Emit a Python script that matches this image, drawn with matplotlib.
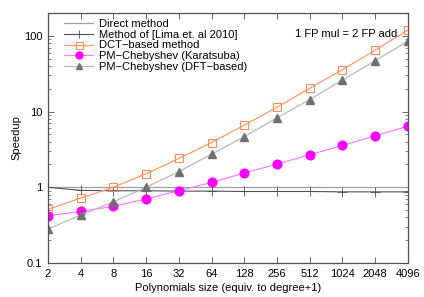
import matplotlib.pyplot as plt
import matplotlib.ticker as ticker

plt.rcParams['font.family'] = ['Liberation Sans', 'DejaVu Sans']
plt.rcParams['font.size'] = 8

sizes = [2, 4, 8, 16, 32, 64, 128, 256, 512, 1024, 2048, 4096]
direct = [1, 1, 1, 1, 1, 1, 1, 1, 1, 1, 1, 1]
lima = [1.0, 0.91, 0.9, 0.9, 0.89, 0.89, 0.88, 0.88, 0.88, 0.87, 0.87, 0.87]
dct = [0.51, 0.72, 1.0, 1.51, 2.4, 3.9, 6.6, 11.4, 20.3, 35.7, 64.8, 119]
karatsuba = [0.42, 0.48, 0.56, 0.70, 0.90, 1.16, 1.54, 2.03, 2.69, 3.57, 4.79, 6.41]
dft = [0.28, 0.43, 0.64, 1.0, 1.61, 2.74, 4.65, 8.3, 14.4, 26.1, 46.9, 85]

fig = plt.figure(figsize=(4.24, 2.97), dpi=100)
ax = fig.add_axes([0.113, 0.1145, 0.849, 0.8415])

ax.plot(sizes, direct, color='#a0a0a0', lw=0.9, label='Direct method')
ax.plot(sizes, lima, color='#505050', lw=0.8, marker='+', ms=7, mew=0.6,
        label='Method of [Lima et. al 2010]')
ax.plot(sizes, dct, color='#ff9a6a', lw=0.9, marker='s', ms=6.3, mfc='none',
        mec='#ff8c5a', mew=0.8, label='DCT\u2212based method')
ax.plot(sizes, karatsuba, color='#ff80ff', lw=0.9, marker='o', ms=6.3,
        mfc='#ff00ff', mec='#ff00ff', label='PM\u2212Chebyshev (Karatsuba)')
ax.plot(sizes, dft, color='#b8b8b8', lw=0.9, marker='^', ms=5.8, mfc='#707070',
        mec='#707070', label='PM\u2212Chebyshev (DFT\u2212based)')

ax.set_xscale('log', base=2)
ax.set_yscale('log')
ax.set_xlim(2, 4096)
ax.set_ylim(0.1, 200)
ax.set_xticks(sizes)
ax.xaxis.set_major_formatter(ticker.FuncFormatter(lambda v, p: '%d' % v))
ax.xaxis.set_minor_locator(ticker.NullLocator())
ax.set_yticks([0.1, 1, 10, 100])
ax.yaxis.set_major_formatter(ticker.FuncFormatter(lambda v, p: '%g' % v))
ax.tick_params(which='both', direction='in', top=True, right=True,
               color='#505050', labelsize=8)
ax.tick_params(which='major', length=4, width=0.6, pad=4)
ax.tick_params(which='minor', length=2, width=0.5)
for s in ax.spines.values():
    s.set_color('#505050')
    s.set_linewidth(0.9)

ax.set_xlabel('Polynomials size (equiv. to degree+1)', fontsize=8, labelpad=3)
ax.set_ylabel('Speedup', fontsize=8, labelpad=2)
ax.text(0.97, 0.915, '1 FP mul = 2 FP add', transform=ax.transAxes,
        ha='right', va='center', fontsize=8)
leg = ax.legend(loc='upper left', frameon=False, fontsize=8, handlelength=2.6,
                labelspacing=0.08, borderaxespad=0.1, handletextpad=0.5,
                markerscale=0.8, bbox_to_anchor=(0.03, 1.0))

fig.savefig('out.png', dpi=100)
